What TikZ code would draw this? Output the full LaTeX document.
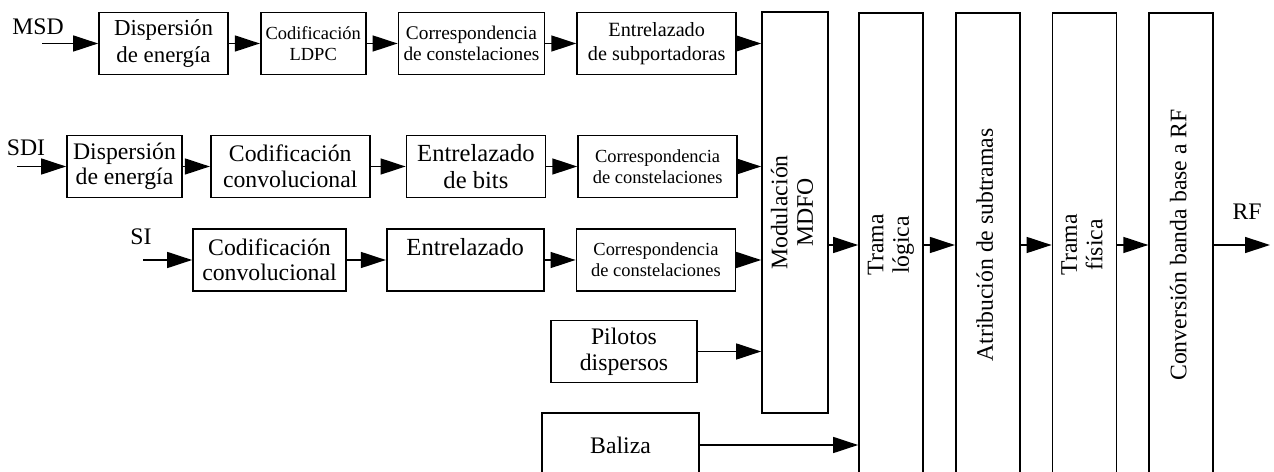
\documentclass[tikz,border=0pt]{standalone}
\usepackage{fontspec}
\setmainfont{Liberation Serif}
\usepackage{graphicx}
\usepackage{tikz}
\usetikzlibrary{arrows.meta,positioning}
\newcommand{\vlab}[1]{\rotatebox{90}{\begin{tabular}{@{}c@{}}#1\end{tabular}}}
\tikzset{
  blk/.style={draw=black, line width=1pt, align=center, inner sep=1pt,
    minimum height=1.24cm, font=\fontsize{13.5}{14.5}\selectfont},
  smallblk/.style={blk, font=\fontsize{10.5}{12}\selectfont},
  tallblk/.style={blk, minimum width=1.28cm, minimum height=9.28cm},
  lbl/.style={inner sep=0pt, font=\fontsize{13.5}{14.5}\selectfont},
  arr/.style={-{Triangle[length=0.5cm,width=0.32cm]}, line width=0.8pt}
}
\begin{document}
\begin{tikzpicture}[x=0.02cm, y=0.02cm, node distance=0.62cm]
  \useasboundingbox (0,0) rectangle (1274,-472);
  \clip (0,0) rectangle (1274,-472);

  \node[blk, minimum width=2.58cm, font=\fontsize{13}{15}\selectfont] (disp1) at (163.5,-43.5) {Dispersión\\de energía};
  \node[smallblk, right=of disp1, minimum width=2.1cm] (ldpc) {Codificación\\LDPC};
  \node[smallblk, right=of ldpc, minimum width=2.92cm, font=\fontsize{11}{12}\selectfont] (map1) {Correspondencia\\de constelaciones};
  \node[blk, right=of map1, minimum width=3.18cm, font=\fontsize{11.5}{13.5}\selectfont] (ilv1) {Entrelazado\\de subportadoras};

  \node[blk, minimum width=2.3cm] (disp2) at (124.5,-166.5) {Dispersión\\de energía};
  \node[blk, right=0.54cm of disp2, minimum width=3.18cm] (conv2) {Codificación\\convolucional};
  \node[blk, right=0.7cm of conv2, minimum width=2.78cm, font=\fontsize{14}{15}\selectfont] (ilv2) {Entrelazado\\de bits};
  \node[smallblk, right=of ilv2, minimum width=3.18cm] (map2) {Correspondencia\\de constelaciones};

  \node[blk, minimum width=3.06cm] (conv3) at (269.5,-260) {Codificación\\convolucional};
  \node[blk, right=0.78cm of conv3, minimum width=3.14cm, font=\fontsize{14}{15}\selectfont] (ilv3) {Entrelazado\\~};
  \node[smallblk, right=of ilv3, minimum width=3.18cm] (map3) {Correspondencia\\de constelaciones};

  \node[blk, minimum width=2.92cm, font=\fontsize{13.5}{15}\selectfont] (pil) at (624,-351.5) {Pilotos\\dispersos};
  \node[blk, minimum width=3.14cm, minimum height=1.28cm] (bal) at (620.5,-445) {Baliza};

  \node[blk, minimum width=1.32cm, minimum height=8.02cm] (mod) at (795,-212.5) {\vlab{Modulación\\MDFO}};
  \node[tallblk] (tl) at (891,-245) {\vlab{Trama\\lógica}};
  \node[tallblk, right=of tl] (atr) {\vlab{Atribución de subtramas}};
  \node[tallblk, right=of atr] (tf) {\vlab{Trama\\física}};
  \node[tallblk, right=of tf] (conv) {\vlab{Conversión banda base a RF}};

  \node[lbl] (msd) at (38,-27) {MSD};
  \node[lbl] (sdi) at (26,-148) {SDI};
  \node[lbl] (si) at (141,-237) {SI};
  \node[lbl] (rf) at (1247,-212) {RF};
  \coordinate (msdin) at (42,-43.5);
  \coordinate (sdiin) at (17,-166.5);
  \coordinate (siin) at (143,-260);
  \coordinate (rfout) at (1270,-245);

  \draw[arr] (msdin) -- (disp1);
  \draw[arr] (disp1) -- (ldpc);
  \draw[arr] (ldpc) -- (map1);
  \draw[arr] (map1) -- (ilv1);
  \draw[arr] (ilv1) -- (ilv1 -| mod.west);

  \draw[arr] (sdiin) -- (disp2);
  \draw[arr] (disp2) -- (conv2);
  \draw[arr] (conv2) -- (ilv2);
  \draw[arr] (ilv2) -- (map2);
  \draw[arr] (map2) -- (map2 -| mod.west);

  \draw[arr] (siin) -- (conv3);
  \draw[arr] (conv3) -- (ilv3);
  \draw[arr] (ilv3) -- (map3);
  \draw[arr] (map3) -- (map3 -| mod.west);

  \draw[arr] (pil) -- (pil -| mod.west);
  \draw[arr] (bal) -- (bal -| tl.west);
  \draw[arr] (mod.east |- tl) -- (tl);
  \draw[arr] (tl) -- (atr);
  \draw[arr] (atr) -- (tf);
  \draw[arr] (tf) -- (conv);
  \draw[arr] (conv) -- (rfout);
\end{tikzpicture}
\end{document}
